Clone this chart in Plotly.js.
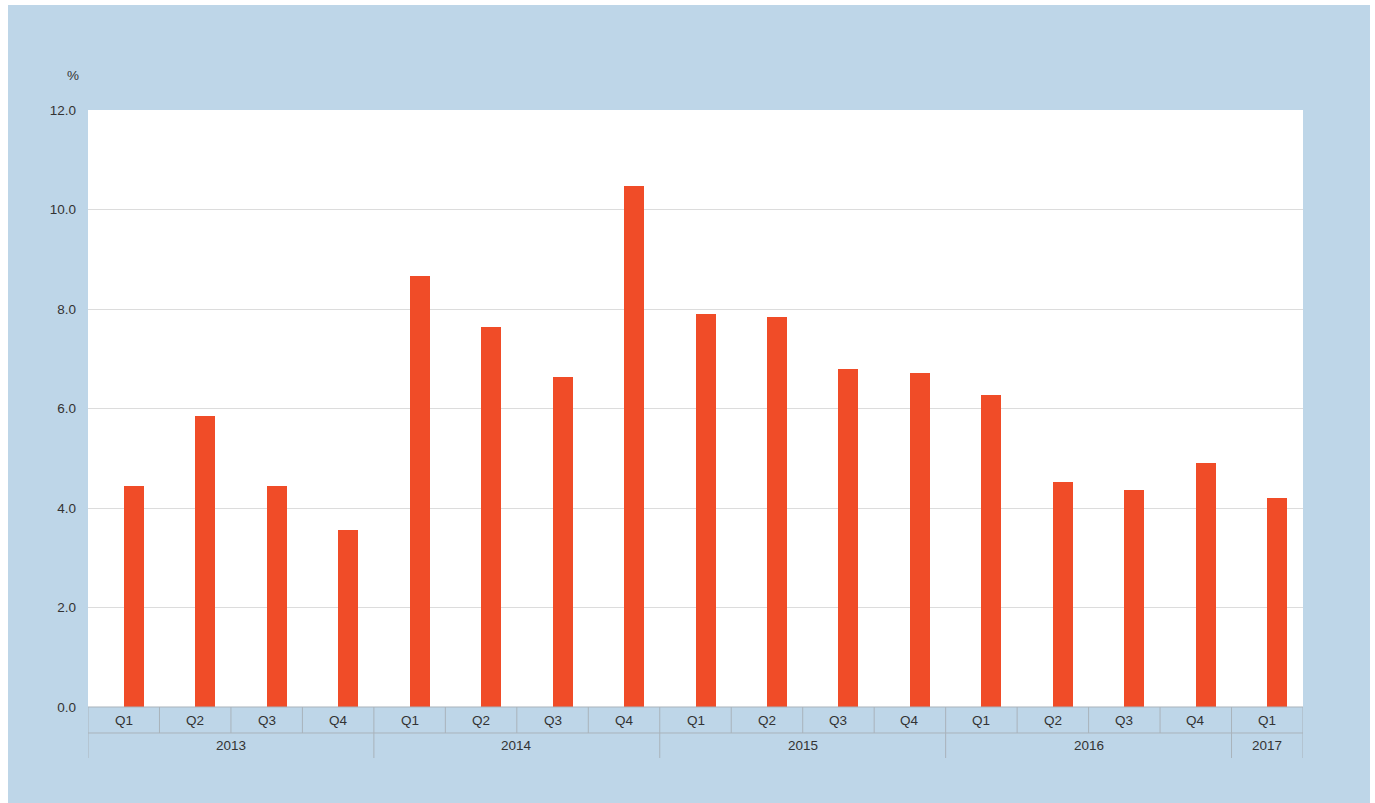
<!DOCTYPE html>
<html>
<head>
<meta charset="utf-8">
<script src="https://cdn.plot.ly/plotly-3.0.1.min.js"></script>
<style>
html,body{margin:0;padding:0;background:#ffffff;}
#bg{position:absolute;left:8px;top:5px;width:1362px;height:798px;background:#bed6e8;}
#chart{position:absolute;left:0;top:0;width:1375px;height:803px;}
</style>
</head>
<body>
<div id="bg"></div>
<div id="chart"></div>
<script>
const quarters = ["Q1","Q2","Q3","Q4","Q1","Q2","Q3","Q4","Q1","Q2","Q3","Q4","Q1","Q2","Q3","Q4","Q1"];
const years = ["2013","2013","2013","2013","2014","2014","2014","2014","2015","2015","2015","2015","2016","2016","2016","2016","2017"];
const values = [4.44, 5.85, 4.44, 3.56, 8.66, 7.63, 6.63, 10.47, 7.90, 7.83, 6.80, 6.71, 6.28, 4.52, 4.37, 4.90, 4.21];
const yTicks = [0, 2, 4, 6, 8, 10, 12];
const yTickText = ["0.0","2.0","4.0","6.0","8.0","10.0","12.0"];

const idx = values.map((v, i) => i);
const lineColor = "#a9b3bb";
const textColor = "#333333";
const fontFam = "Liberation Sans, Arial, sans-serif";
const fs = 13.5;
const row1 = -26/597, row2 = -51/597;

const shapes = [];
const annotations = [];
shapes.push({type:"line", xref:"x", yref:"paper", x0:-0.5, x1:quarters.length-0.5, y0:0, y1:0, line:{color:lineColor, width:1}});
shapes.push({type:"line", xref:"x", yref:"paper", x0:-0.5, x1:quarters.length-0.5, y0:row1, y1:row1, line:{color:lineColor, width:1}});
for (let i = 0; i <= quarters.length; i++) {
  const isYearEdge = (i === 0 || i === quarters.length || years[i] !== years[i-1]);
  shapes.push({type:"line", xref:"x", yref:"paper", x0:i-0.5, x1:i-0.5, y0:0, y1:isYearEdge ? row2 : row1, line:{color:lineColor, width:1}});
}
quarters.forEach((q, i) => {
  annotations.push({xref:"x", yref:"paper", x:i, y:row1/2, text:q, showarrow:false, font:{family:fontFam, size:fs, color:textColor}, xanchor:"center", yanchor:"middle"});
});
let start = 0;
for (let i = 1; i <= years.length; i++) {
  if (i === years.length || years[i] !== years[start]) {
    annotations.push({xref:"x", yref:"paper", x:(start + i - 1)/2, y:(row1+row2)/2, text:years[start], showarrow:false, font:{family:fontFam, size:fs, color:textColor}, xanchor:"center", yanchor:"middle"});
    start = i;
  }
}
annotations.push({xref:"paper", yref:"paper", x:-7/1215, y:1+35/597, text:"%", showarrow:false, xanchor:"right", yanchor:"middle", font:{family:fontFam, size:fs, color:textColor}});

const trace = {
  type:"bar",
  x: idx,
  y: values,
  width: 0.28,
  offset: 0,
  marker:{color:"#f04c28", line:{width:0}},
  hoverinfo:"y"
};

const layout = {
  width:1375, height:803,
  margin:{l:88, r:72, t:110, b:96},
  paper_bgcolor:"rgba(0,0,0,0)",
  plot_bgcolor:"#ffffff",
  showlegend:false,
  xaxis:{range:[-0.5, quarters.length-0.5], showticklabels:false, showgrid:false, zeroline:false, ticks:"", fixedrange:true},
  yaxis:{range:[0,12], tickvals:yTicks, ticktext:yTickText, showgrid:true, gridcolor:"#dcdcdc", gridwidth:1, zeroline:false, ticks:"", ticklabelstandoff:11,
         tickfont:{family:fontFam, size:fs, color:textColor}, fixedrange:true},
  shapes: shapes,
  annotations: annotations,
  bargap:0
};

Plotly.newPlot("chart", [trace], layout, {displayModeBar:false, staticPlot:true});
</script>
</body>
</html>
